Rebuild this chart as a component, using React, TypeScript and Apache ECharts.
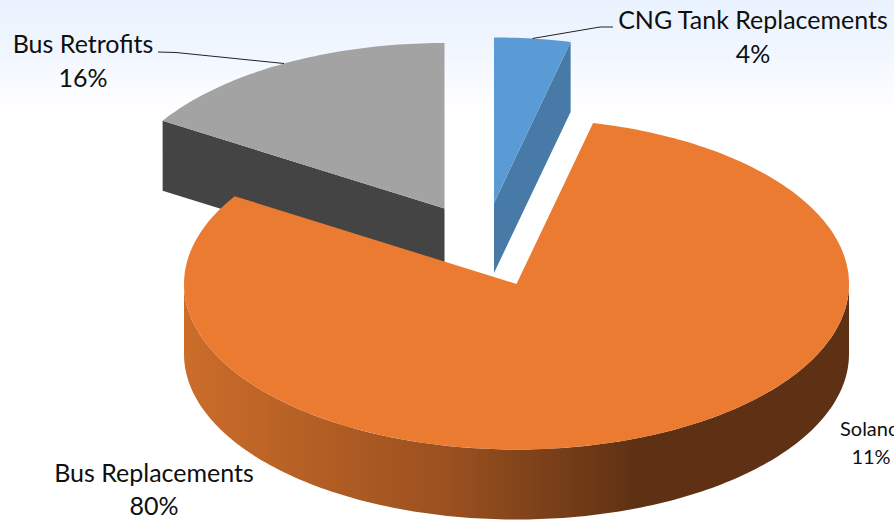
import React, { useEffect, useRef } from "react";
import * as echarts from "echarts";

const categories = ["CNG Tank Replacements", "Bus Replacements", "Bus Retrofits"];
const sliceValues = [3.7, 80.2, 16.1];
const strayLabel = ["Solano", "11%"];

const W = 894;
const H = 521;
const RX = 332.5;
const RY = 165.5;
const DEPTH = 70;
const FONT = "Lato, 'Open Sans', sans-serif";
const centers = [
  [494, 203],
  [516.5, 284],
  [444.5, 208.5],
];
const topColors = ["#5B9BD5", "#EA7B30", "#A3A3A3"];
const wallColors: any[] = [
  "#477AA6",
  new echarts.graphic.LinearGradient(0, 0, 1, 0, [
    { offset: 0, color: "#CC6D2A" },
    { offset: 0.4, color: "#9A501F" },
    { offset: 0.68, color: "#5E3114" },
    { offset: 1, color: "#5E3114" },
  ]),
  "#444444",
];
const sliceZ = [1, 3, 2];

const rad = (d: number) => (d * Math.PI) / 180;

function arcPoints(c: number[], a0: number, a1: number, dy = 0) {
  const n = Math.max(2, Math.ceil(Math.abs(a1 - a0) / 1));
  const pts: number[][] = [];
  for (let i = 0; i <= n; i++) {
    const a = rad(a0 + ((a1 - a0) * i) / n);
    pts.push([c[0] + RX * Math.sin(a), c[1] - RY * Math.cos(a) + dy]);
  }
  return pts;
}

const total = sliceValues.reduce((s, v) => s + v, 0);

function renderSlice(params: any, api: any) {
  const i = params.dataIndex;
  let before = 0;
  for (let k = 0; k < i; k++) before += sliceValues[k];
  const a0 = (before / total) * 360;
  const a1 = a0 + (api.value(0) / total) * 360;
  const c = centers[i];
  const z = sliceZ[i] * 10;
  const children: any[] = [];

  const radial = (a: number) => {
    const p = arcPoints(c, a, a, 0)[0];
    return {
      type: "polygon",
      z2: z,
      shape: { points: [c, p, [p[0], p[1] + DEPTH], [c[0], c[1] + DEPTH]] },
      style: { fill: wallColors[i] },
    };
  };
  if (Math.sin(rad(a0)) < -1e-6) children.push(radial(a0));
  if (Math.sin(rad(a1)) > 1e-6) children.push(radial(a1));

  const from = Math.max(a0, 90);
  const to = Math.min(a1, 270);
  if (to > from) {
    const upper = arcPoints(c, from, to);
    const lower = arcPoints(c, to, from, DEPTH);
    children.push({
      type: "polygon",
      z2: z,
      shape: { points: upper.concat(lower) },
      style: { fill: wallColors[i] },
    });
  }

  children.push({
    type: "polygon",
    z2: z + 1,
    shape: { points: [c].concat(arcPoints(c, a0, a1)) },
    style: { fill: topColors[i] },
  });
  return { type: "group", children };
}

const label = (text: string, x: number, y: number, size = 25, align = "center") => ({
  type: "text",
  z: 10,
  x,
  y,
  style: { text, fill: "#0F0F0F", font: `${size}px ${FONT}`, align, verticalAlign: "middle" },
});

const pct = (i: number) => `${Math.round(sliceValues[i])}%`;

export default function App() {
  const ref = useRef<HTMLDivElement>(null);
  useEffect(() => {
    document.body.style.margin = "0";
    const chart = echarts.init(ref.current!, undefined, { renderer: "svg" });
    chart.setOption({
      animation: false,
      backgroundColor: {
        type: "linear",
        x: 0,
        y: 0,
        x2: 0,
        y2: 1,
        colorStops: [
          { offset: 0, color: "#E9F2FE" },
          { offset: 0.1, color: "#F1F6FF" },
          { offset: 0.215, color: "#FFFFFF" },
          { offset: 1, color: "#FFFFFF" },
        ],
      },
      series: [
        {
          type: "custom",
          coordinateSystem: "none",
          silent: true,
          renderItem: renderSlice,
          data: sliceValues.map((v, i) => ({ name: categories[i], value: [v] })),
        },
      ],
      graphic: [
        {
          type: "polyline",
          z: 9,
          shape: { points: [[532.5, 38.5], [600, 27], [613, 27]] },
          style: { stroke: "#222", lineWidth: 1, fill: "none" },
        },
        {
          type: "polyline",
          z: 9,
          shape: { points: [[158, 52], [176, 52.5], [284, 63.5]] },
          style: { stroke: "#222", lineWidth: 1, fill: "none" },
        },
        label(categories[0], 753, 19),
        label(pct(0), 753, 53),
        label(categories[2], 83, 43),
        label(pct(2), 83, 77),
        label(categories[1], 154, 472),
        label(pct(1), 154, 505),
        label(strayLabel[0], 840, 428, 20, "left"),
        label(strayLabel[1], 871, 456, 20),
      ],
    });
    return () => chart.dispose();
  }, []);
  return <div ref={ref} style={{ width: W, height: H, overflow: "hidden" }} />;
}
